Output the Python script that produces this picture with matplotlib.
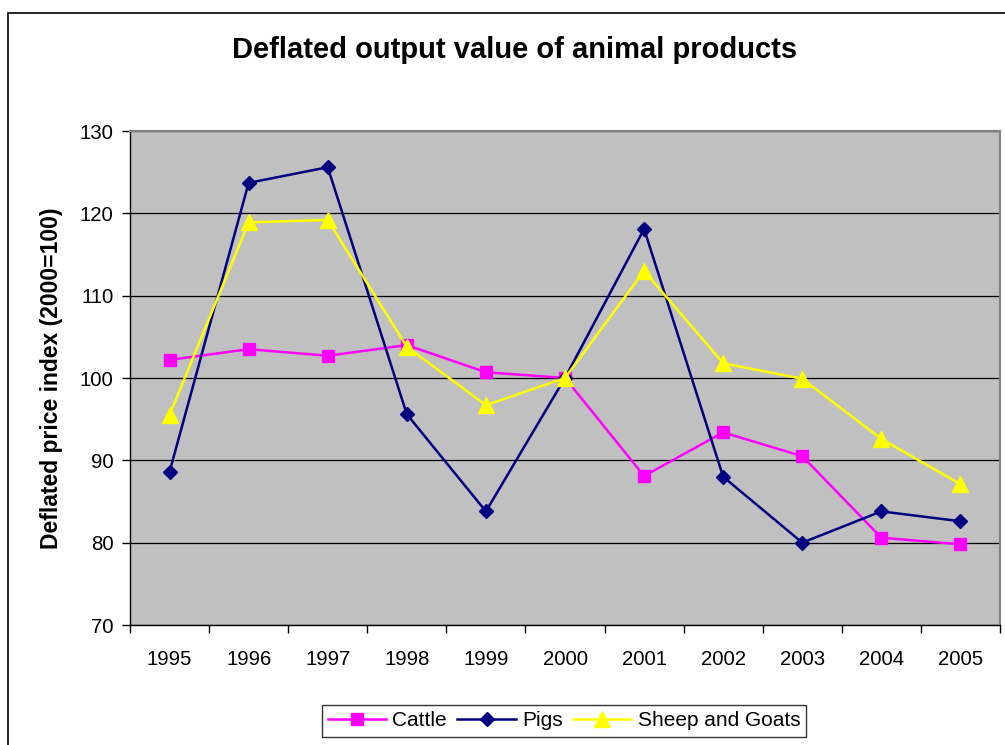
import matplotlib.pyplot as plt
from matplotlib.patches import Rectangle

years = ['1995', '1996', '1997', '1998', '1999', '2000', '2001', '2002', '2003', '2004', '2005']
cattle = [102.2, 103.5, 102.7, 104.0, 100.7, 100.0, 88.1, 93.4, 90.5, 80.6, 79.8]
pigs = [88.6, 123.7, 125.6, 95.6, 83.8, 100.0, 118.1, 88.0, 80.0, 83.8, 82.6]
sheep = [95.5, 118.9, 119.2, 103.8, 96.7, 100.0, 113.0, 101.8, 99.9, 92.6, 87.1]

plt.rcParams['font.family'] = ['Liberation Sans', 'DejaVu Sans']

fig = plt.figure(figsize=(10.05, 7.45), dpi=100)
ax = fig.add_axes([130 / 1005, 120 / 745, 870 / 1005, 494 / 745])
ax.set_facecolor('#c0c0c0')

# outer chart border
fig.patches.append(Rectangle((8 / 1005, -0.01), 1.1, (745 - 13) / 745 + 0.01,
                             transform=fig.transFigure, fill=False,
                             edgecolor='black', linewidth=1.2))

x = list(range(len(years)))
ax.plot(x, cattle, color='#ff00ff', lw=1.8, marker='s', ms=9, label='Cattle', zorder=3)
ax.plot(x, pigs, color='#000080', lw=1.8, marker='D', ms=7.5, label='Pigs', zorder=3)
ax.plot(x, sheep, color='#ffff00', lw=1.8, marker='^', ms=11, label='Sheep and Goats', zorder=3)

ax.set_xlim(-0.5, len(years) - 0.5)
ax.set_ylim(70, 130)
ax.set_yticks(range(70, 131, 10))
ax.set_xticks(x)
ax.set_xticklabels(years)
ax.set_xticks([i - 0.5 for i in range(len(years) + 1)], minor=True)
ax.tick_params(axis='x', which='major', length=0, pad=18, labelsize=14.7)
ax.tick_params(axis='x', which='minor', length=6, width=1)
ax.tick_params(axis='y', length=6, width=1, labelsize=14.7, pad=6)
ax.yaxis.grid(True, color='black', lw=0.9)
ax.set_axisbelow(True)

for s in ['top', 'right']:
    ax.spines[s].set_color('#808080')
    ax.spines[s].set_linewidth(1.5)
for s in ['left', 'bottom']:
    ax.spines[s].set_color('black')
    ax.spines[s].set_linewidth(1)

ax.set_ylabel('Deflated price index (2000=100)', fontsize=16.5, fontweight='bold', labelpad=12)
fig.text(515 / 1005, 1 - 50 / 745, 'Deflated output value of animal products',
         ha='center', va='center', fontsize=21, fontweight='bold')

leg = ax.legend(loc='center', bbox_to_anchor=(564 / 1005, 1 - 721 / 745),
                bbox_transform=fig.transFigure, ncol=3, fontsize=15,
                frameon=True, fancybox=False, edgecolor='black',
                handlelength=2.8, columnspacing=0.5, handletextpad=0.3,
                borderpad=0.3)
leg.get_frame().set_linewidth(1)

fig.savefig('out.png', dpi=100)
